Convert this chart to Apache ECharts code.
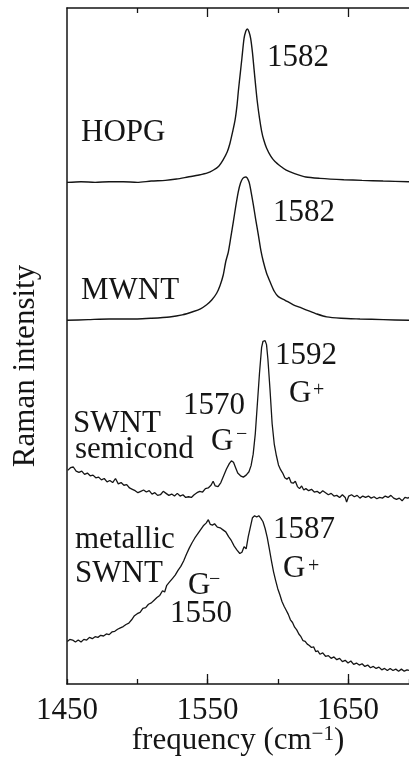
<!DOCTYPE html>
<html>
<head>
<meta charset="utf-8">
<script src="https://cdn.jsdelivr.net/npm/echarts@6/dist/echarts.min.js"></script>
<style>
html,body{margin:0;padding:0;background:#fff;}
#c{width:409px;height:765px;}
</style>
</head>
<body>
<div id="c"></div>
<script>
// ---- data (frequency in cm^-1, Raman intensity in arbitrary stacked units) ----
var xTickLabels = [1450, 1550, 1650];

var hopgFreq = [1450,1460,1470,1480,1490,1500,1510,1520,1528,1536,1544,1550,1554,1558,1561,1564,1566,1568,1569.6,1571,1572,1573.3,1574.5,1576,1577.3,1578.3,1579.5,1580.7,1582,1583.1,1584.3,1585.4,1587,1588.5,1590,1592,1595,1598,1602,1606,1612,1620,1630,1647,1660,1675,1693.4];
var hopgInt  = [74.2,74.3,74.2,74.3,74.3,74.2,74.4,74.5,74.7,75.0,75.3,75.6,76.0,76.6,77.5,78.7,80.0,81.8,83.4,85.6,87.8,90.3,92.6,95.5,96.6,96.9,96.5,95.5,93.4,91.0,88.4,86.2,83.7,81.8,80.5,79.3,78.1,77.3,76.6,76.0,75.5,75.0,74.8,74.6,74.5,74.4,74.3];

var mwntFreq = [1450,1465,1480,1492,1500,1510,1523,1532,1540,1545,1549.4,1553,1556.5,1559,1561.2,1563,1564.8,1566.6,1568.4,1570.2,1571.9,1573.5,1575.1,1577.2,1579.5,1581,1582.6,1584.4,1586.2,1588,1589.7,1592,1594.5,1597.5,1600.4,1605,1611.1,1616,1620.6,1627,1634.8,1645,1658.5,1675,1693.4];
var mwntInt  = [53.8,53.9,54.0,54.0,54.0,54.1,54.3,54.6,55.1,55.5,56.1,56.8,57.8,59.0,60.5,62.5,63.9,66.1,68.4,70.8,72.8,74.1,74.8,75.0,74.3,72.8,70.9,68.6,66.4,64.1,62.5,60.8,59.5,58.1,57.3,56.8,56.1,55.7,55.3,54.8,54.3,54.1,54.0,53.9,53.8];

var semiFreq = [1450.5,1452.5,1454.5,1456.5,1458.5,1460.5,1462.5,1464.5,1466.5,1468.5,1470.5,1472.5,1474.5,1476.5,1478.5,1480.5,1482.5,1484.5,1486.5,1488.5,1490.5,1492.5,1494.5,1496.5,1498.5,1500.5,1502.5,1504.5,1506.5,1508.5,1510.5,1512.5,1514.5,1516.5,1518.5,1520.5,1522.5,1524.5,1526.5,1528.5,1530.5,1532.5,1534.5,1536.5,1538.5,1540.5,1542.5,1544.5,1546.5,1548.5,1550.5,1552.5,1554,1555.5,1557.5,1559.5,1561.5,1563.5,1565.5,1567,1568.5,1570,1571.5,1573.5,1575.5,1577.5,1579.5,1581,1582.5,1584,1585.5,1587,1588.5,1589.5,1591,1592,1593,1594.5,1596,1597.5,1599,1600.5,1602,1603.5,1605,1606.5,1608,1609.5,1611,1612.5,1614,1615.5,1617,1618.5,1620,1622,1624,1626,1628,1630,1632,1634,1636,1638,1640,1642,1644,1646,1648,1649,1650.5,1652.5,1654.5,1656.5,1658.5,1660.5,1662.5,1664.5,1666.5,1668.5,1670.5,1672.5,1674.5,1676.5,1678.5,1680.5,1682.5,1684.5,1686.5,1688.5,1690.5,1692.5,1693.4];
var semiInt  = [31.6,32.0,32.1,31.5,31.3,31.5,31.0,31.2,30.8,30.9,30.5,30.6,30.2,30.4,29.9,30.1,29.8,30.4,29.6,29.8,29.4,29.5,29.0,28.8,28.6,28.3,28.5,28.7,28.4,28.6,28.1,28.3,27.9,28.0,28.5,28.2,27.9,28.1,27.8,28.2,27.8,28.0,27.6,27.7,27.6,28.0,28.3,28.5,28.4,28.9,29.0,29.4,30.0,29.3,29.2,29.8,30.8,31.8,32.6,33.0,32.8,32.0,31.2,30.8,30.6,30.9,31.4,32.3,34.0,37.0,41.5,46.0,49.8,50.7,50.8,50.2,48.0,43.5,38.5,35.5,33.8,32.4,31.7,31.2,30.5,30.3,30.6,29.8,29.7,30.0,29.2,28.9,29.3,28.7,28.9,28.6,28.8,28.4,28.5,28.2,28.6,28.3,28.0,28.2,27.8,27.9,27.6,28.0,27.6,26.9,27.8,28.0,27.7,27.9,27.5,27.8,27.6,27.8,27.5,27.7,27.4,27.6,27.5,27.8,27.6,27.9,27.5,27.3,27.5,27.1,27.6,27.5,27.6];

var metFreq = [1450.2,1452,1454,1456,1458,1460,1462,1464,1466,1468,1470,1472,1474,1476,1478,1480,1482,1484,1486,1488,1490,1492,1494,1496,1498,1500,1502,1504,1506,1508,1510,1512,1514,1516,1518,1519.5,1521,1523,1525,1527,1529,1531,1533,1535,1537,1539,1541,1543,1545,1547,1549,1550.6,1552,1553.5,1555,1557,1559,1561,1563,1565,1567,1569,1571,1573,1574.5,1576,1577.5,1579,1580.5,1582,1583.5,1585,1586.5,1588,1589.5,1591,1592.5,1594,1595.5,1597,1598.5,1600,1601.5,1603,1604.5,1606,1607.5,1609,1610.5,1612,1613.5,1615,1616.5,1618,1619.5,1621,1622.5,1624,1625.5,1627,1628.5,1630,1632,1634,1636,1638,1640,1642,1644,1646,1648,1650,1652,1654,1656,1658,1660,1662,1664,1666,1668,1670,1672,1674,1676,1678,1680,1682,1684,1686,1688,1690,1692,1693.4];
var metInt  = [6.3,6.6,6.5,6.2,6.5,6.2,6.6,6.5,6.9,6.7,7.0,6.9,7.2,7.1,7.4,7.3,7.7,7.8,8.1,8.3,8.5,8.8,9.0,9.5,10.1,10.4,10.6,11.2,11.3,11.8,12.0,12.4,12.8,13.1,13.8,13.6,14.6,15.1,15.6,16.1,16.8,17.4,18.2,19.2,20.1,20.9,21.6,22.2,22.8,23.4,23.8,24.3,23.6,23.5,23.7,23.2,23.1,22.8,22.5,21.8,21.2,20.4,19.8,19.3,19.5,20.3,20.0,21.8,23.2,24.6,24.9,24.7,24.9,24.5,24.0,23.0,21.7,20.0,18.2,16.6,15.3,14.1,13.2,12.2,11.5,10.9,10.3,9.5,9.1,8.4,8.0,7.4,7.0,6.4,6.3,5.9,5.7,5.4,5.5,4.8,4.9,4.4,4.6,4.1,4.2,3.8,4.0,3.6,3.8,3.3,3.5,3.1,3.4,2.9,3.1,2.8,3.0,2.6,2.8,2.4,2.6,2.3,2.5,2.1,2.3,2.0,2.3,2.0,2.2,1.9,2.2,1.9,2.1,2.0];

function pairs(xs, ys){ return xs.map(function(x,i){ return [x, ys[i]]; }); }

var FONT = "'Liberation Serif','DejaVu Serif','Times New Roman',serif";
var INK = '#151515';
var FS = 31;

var chart = echarts.init(document.getElementById('c'), null, {renderer:'canvas'});

var axisLine = {show:true, lineStyle:{color:INK, width:1.5}};
var xMin = 1450, xMax = 1693.4;

function txt(text, x, y, size, extra){
  var o = {type:'text', x:x, y:y, silent:true,
    style:{text:text, font: (size||FS)+'px '+FONT, fill:INK, align:'left', verticalAlign:'middle',
           textAlign:'left', textVerticalAlign:'middle'}};
  if (extra) for (var k in extra) o[k]=extra[k];
  return o;
}

var option = {
  backgroundColor:'#fff',
  animation:false,
  grid:{left:67, right:0, top:8, bottom:81},
  xAxis:[
    {type:'value', min:xMin, max:xMax, interval:50, position:'bottom',
     axisLine:axisLine, splitLine:{show:false},
     axisTick:{show:true, inside:true, length:5, lineStyle:{color:INK, width:1.3}},
     axisLabel:{show:true, customValues:xTickLabels, margin:11, color:INK, fontSize:FS, fontFamily:FONT,
                formatter:function(v){ return String(Math.round(v)); }}},
    {type:'value', min:xMin, max:xMax, interval:50, position:'bottom',
     axisLine:{show:false}, splitLine:{show:false}, axisLabel:{show:false},
     axisTick:{show:true, inside:true, length:10, customValues:[1550,1650], lineStyle:{color:INK, width:1.3}}},
    {type:'value', min:xMin, max:xMax, interval:50, position:'top',
     axisLine:axisLine, splitLine:{show:false}, axisLabel:{show:false},
     axisTick:{show:true, inside:true, length:5, customValues:[1500,1600], lineStyle:{color:INK, width:1.3}}},
    {type:'value', min:xMin, max:xMax, interval:50, position:'top',
     axisLine:{show:false}, splitLine:{show:false}, axisLabel:{show:false},
     axisTick:{show:true, inside:true, length:9, customValues:[1550,1650], lineStyle:{color:INK, width:1.3}}}
  ],
  yAxis:{type:'value', min:0, max:100, axisLine:axisLine, axisTick:{show:false},
         axisLabel:{show:false}, splitLine:{show:false}},
  series:[
    {type:'line', data:pairs(hopgFreq,hopgInt), showSymbol:false, smooth:0.25, lineStyle:{color:INK,width:1.4}},
    {type:'line', data:pairs(mwntFreq,mwntInt), showSymbol:false, smooth:0.25, lineStyle:{color:INK,width:1.4}},
    {type:'line', data:pairs(semiFreq,semiInt), showSymbol:false, smooth:false, lineStyle:{color:INK,width:1.3}},
    {type:'line', data:pairs(metFreq,metInt), showSymbol:false, smooth:false, lineStyle:{color:INK,width:1.3}}
  ],
  graphic:[
    txt('Raman intensity', 26, 366, FS, {rotation:Math.PI/2, style:{text:'Raman intensity', font:FS+'px '+FONT, fill:INK, align:'center', verticalAlign:'middle', textAlign:'center', textVerticalAlign:'middle'}}),
    {type:'text', x:238, y:741, silent:true, style:{
      text:'{n|frequency (cm}{s|−1}{n|)}', align:'center', verticalAlign:'middle', textAlign:'center', textVerticalAlign:'middle', fill:INK,
      rich:{n:{fontSize:FS, fontFamily:FONT, fill:INK, color:INK, lineHeight:34}, s:{fontSize:21, fontFamily:FONT, fill:INK, color:INK, verticalAlign:'top', lineHeight:34}}}},
    txt('HOPG', 81, 133),
    txt('1582', 267, 58),
    txt('MWNT', 81, 291),
    txt('1582', 273, 213),
    txt('SWNT', 73, 424),
    txt('semicond', 75, 450),
    txt('1570', 183, 406),
    txt('G', 211, 442),
    txt('−', 236, 435, 20),
    txt('1592', 275, 356),
    txt('G', 289, 394),
    txt('+', 313, 391, 20),
    txt('metallic', 75, 540),
    txt('SWNT', 75, 574),
    txt('G', 188, 586),
    txt('−', 209, 580, 20),
    txt('1550', 170, 614),
    txt('1587', 273, 530),
    txt('G', 283, 569),
    txt('+', 308, 567, 20)
  ]
};
chart.setOption(option);
</script>
</body>
</html>
